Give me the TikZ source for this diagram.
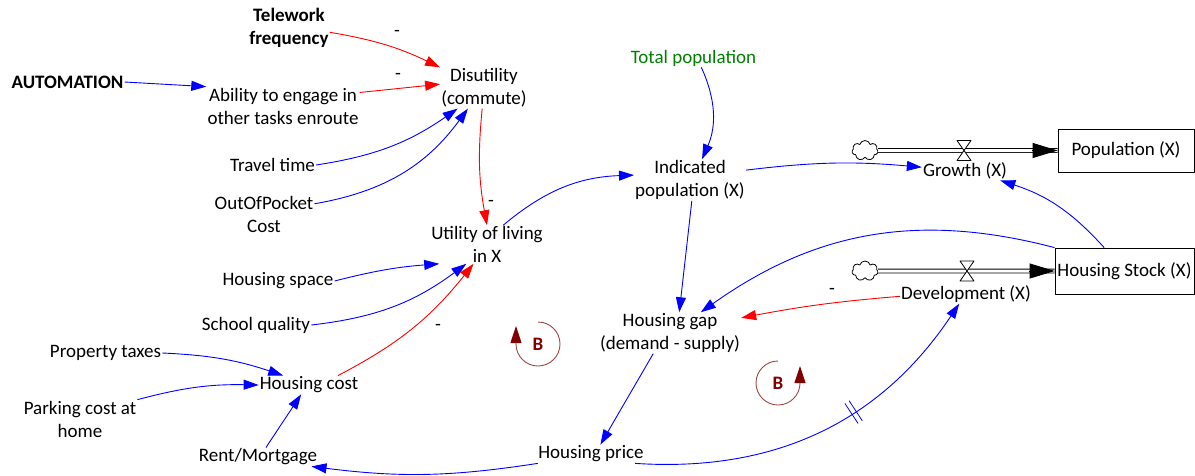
\documentclass[tikz,border=0pt]{standalone}
\usepackage{fontspec}
\setmainfont{Carlito}
\usetikzlibrary{arrows.meta,shapes.symbols,decorations.markings,calc}
\definecolor{cblue}{RGB}{0,0,255}
\definecolor{cred}{RGB}{255,0,0}
\definecolor{cgreen}{RGB}{0,128,0}
\definecolor{loopc}{RGB}{128,0,0}
\definecolor{loopl}{RGB}{160,70,70}
\begin{document}
\begin{tikzpicture}[x=1pt,y=-1pt, line join=round,
  every node/.style={font=\fontsize{19}{23}\selectfont},
  lab/.style={align=center, inner sep=1pt},
  boldlab/.style={lab, font=\fontsize{19}{23}\selectfont\bfseries},
  arrowtip/.style={-{Triangle[length=15pt,width=10pt]}},
  plink/.style={cblue, line width=0.9pt, arrowtip},
  nlink/.style={cred, line width=0.9pt, arrowtip},
  minus/.style={inner sep=0pt},
  stockbox/.style={draw, line width=0.8pt, inner sep=2pt},
  pipe/.style={draw=black, double=white, double distance=3pt, line width=0.8pt},
  cloudnode/.style={cloud, cloud puffs=7, aspect=1.3, draw, line width=0.8pt, minimum width=26pt, minimum height=20pt, inner sep=0pt},
  loopline/.style={draw=loopl, line width=0.9pt},
  looplab/.style={font=\fontsize{19}{23}\selectfont\bfseries, text=loopc, inner sep=0pt}
]
\useasboundingbox (0,0) rectangle (1195,475);

% ---------- nodes ----------
\node[boldlab] (tele) at (289,28) {Telework\\frequency};
\node[boldlab] (auto) at (67.5,82) {AUTOMATION};
\node[lab] (abil) at (283,106) {Ability to engage in\\other tasks enroute};
\node[lab] (dis) at (484,88) {Disutility\\(commute)};
\node[lab] (trav) at (272.5,165) {Travel time};
\node[lab] (oop) at (264,214.5) {OutOfPocket\\Cost};
\node[lab] (util) at (487,244.5) {Utility of living\\in X};
\node[lab] (hspace) at (278,281) {Housing space};
\node[lab] (school) at (256,325) {School quality};
\node[lab] (ptax) at (105.5,353) {Property taxes};
\node[lab] (hcost) at (309,385) {Housing cost};
\node[lab] (park) at (80,419) {Parking cost at\\home};
\node[lab] (rent) at (258,457) {Rent/Mortgage};
\node[lab, text=cgreen] (tot) at (693.5,58) {Total population};
\node[lab] (ind) at (690,180) {Indicated\\population (X)};
\node[lab] (growth) at (965,171) {Growth (X)};
\node[lab] (gap) at (670,333) {Housing gap\\(demand - supply)};
\node[lab] (dev) at (966,294) {Development (X)};
\node[lab] (hp) at (591,454) {Housing price};

\node[stockbox, minimum width=136pt, minimum height=43pt] (pop) at (1126,150.5) {Population (X)};
\node[stockbox, minimum width=139pt, minimum height=46pt] (hs) at (1124.5,271) {Housing Stock (X)};

% ---------- flows ----------
\node[cloudnode] (c1) at (865,150.5) {};
\node[cloudnode] (c2) at (865,271) {};
\draw[pipe] (c1.east) -- (pop.west);
\draw[pipe] (c2.east) -- (hs.west);
\draw[line width=0.8pt, -{Triangle[length=25pt,width=15pt]}] ($(pop.west)+(-26,0)$) -- (pop.west);
\draw[line width=0.8pt, -{Triangle[length=25pt,width=15pt]}] ($(hs.west)+(-26,0)$) -- (hs.west);
\coordinate (v1) at (964,150.5);
\coordinate (v2) at (967,271);
\draw[fill=white, line width=0.8pt] ($(v1)+(-7,-10)$) -- ($(v1)+(7,-10)$) -- ($(v1)+(-7,10)$) -- ($(v1)+(7,10)$) -- cycle;
\draw[fill=white, line width=0.8pt] ($(v2)+(-7,-10)$) -- ($(v2)+(7,-10)$) -- ($(v2)+(-7,10)$) -- ($(v2)+(7,10)$) -- cycle;

% ---------- connectors ----------
\draw[nlink] (tele.-6) to[bend left=8] (dis.north west);
\draw[nlink] (abil.10) -- (dis.175);
\draw[plink] (auto.east) -- (abil.north west);
\draw[plink] (trav.east) to[bend right=13] (dis.218);
\draw[plink] (oop.12) to[bend right=22] (dis.232);
\draw[nlink] (dis.265) to[bend right=8] (util.north);
\draw[plink] (util.50) to[bend left=19] (ind.175);
\draw[plink] (tot.-50) to[bend left=24] (ind.60);
\draw[plink] (ind.10) to[bend left=6] (growth.175);
\draw[plink] (hs.131) to[bend right=15] (growth.-15);
\draw[plink] (ind.-85) -- (gap.66);
\draw[plink] (hs.north west) to[bend right=25] (gap.34);
\draw[nlink] (dev.182) to[bend right=3] (gap.12);
\draw[plink, postaction={decorate, decoration={markings, mark=at position 0.6 with {\draw[-, cblue, line width=0.8pt] (-2.5,-12) -- (-2.5,12) (2.5,-12) -- (2.5,12);}}}] (hp.-12) to[bend right=30] (dev.-125);
\draw[plink] (gap.-129) -- (hp.45);
\draw[plink] (hp.190) to[bend left=8] (rent.-10);
\draw[plink] (rent.50) -- (hcost.-130);
\draw[plink] (ptax.east) to[bend left=8] (hcost.160);
\draw[plink] (park.north east) to[bend left=8] (hcost.west);
\draw[plink] (hspace.east) to[bend left=5] (util.-158);
\draw[plink] (school.east) to[bend right=15] (util.-137);
\draw[nlink] (hcost.18) to[bend right=12] (util.-125);

% ---------- polarity signs ----------
\node[minus] at (397,33) {-};
\node[minus] at (398,76) {-};
\node[minus] at (491,203) {-};
\node[minus] at (438,327) {-};
\node[minus] at (832,291) {-};

% ---------- loop markers ----------
\node[looplab] (b1) at (538,344) {B};
\node[looplab] (b2) at (778,383) {B};
\draw[loopline, -{Triangle[length=17pt,width=11pt,color=loopc]}] ($(b1)+(0,-22)$) arc[start angle=-90, end angle=180, radius=22] -- ++(0,-18);
\draw[loopline, -{Triangle[length=17pt,width=11pt,color=loopc]}] ($(b2)+(0,-22)$) arc[start angle=-90, end angle=-360, radius=22] -- ++(0,-17);
\end{tikzpicture}
\end{document}
